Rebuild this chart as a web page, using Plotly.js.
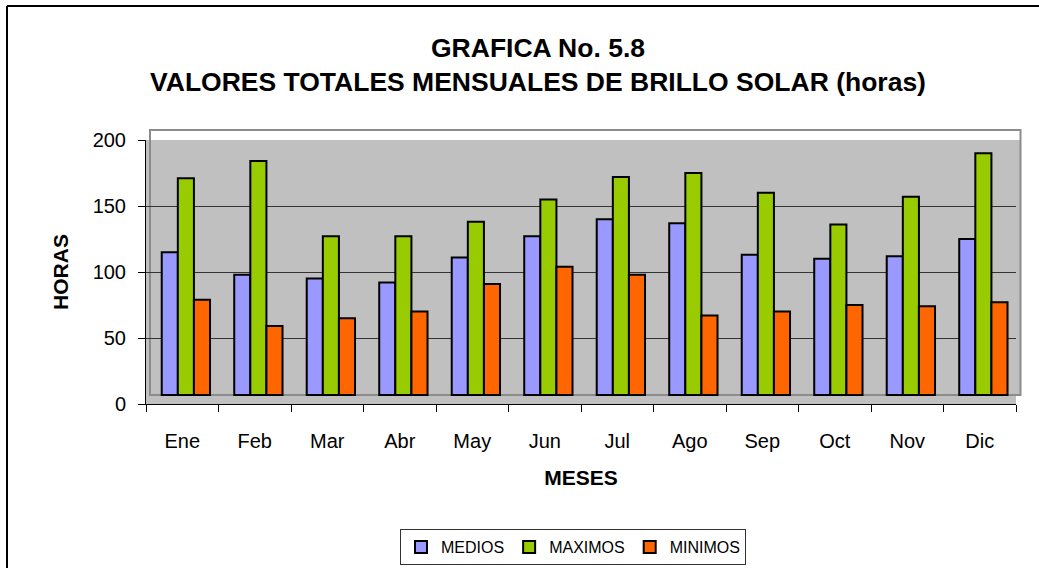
<!DOCTYPE html>
<html>
<head>
<meta charset="utf-8">
<script src="https://cdn.plot.ly/plotly-3.0.1.min.js"></script>
<style>
html,body{margin:0;padding:0;background:#fff;}
#chart{width:1039px;height:568px;}
</style>
</head>
<body>
<div id="chart"></div>
<script>
// ---- data ----
const months = ['Ene','Feb','Mar','Abr','May','Jun','Jul','Ago','Sep','Oct','Nov','Dic'];
const medios  = [115, 98, 95, 92, 111, 127, 140, 137, 113, 110, 112, 125];
const maximos = [171, 184, 127, 127, 138, 155, 172, 175, 160, 136, 157, 190];
const minimos = [79, 59, 65, 70, 91, 104, 98, 67, 70, 75, 74, 77];
const seriesNames = ['MEDIOS','MAXIMOS','MINIMOS'];
const yTicks = [0, 50, 100, 150, 200];

// ---- style ----
const FONT = 'Liberation Sans, Arial, sans-serif';
const colors = ['#9999ff', '#99cc00', '#ff6600'];
const FLOOR = 6.8;           // pseudo-3D floor depth (axis units)
const BAR_W = 0.222;
const offsets = [-0.283, -0.061, 0.161];

const W = 1039, H = 568, L = 146, R = 23, T = 140, B = 164;
const pw = W - L - R, ph = H - T - B;
const px = x => (x - L) / pw;
const py = y => (H - B - y) / ph;

const allSeries = [medios, maximos, minimos];
const traces = allSeries.map((vals, i) => ({
  type: 'bar',
  name: seriesNames[i],
  x: months,
  y: vals.map(v => v - FLOOR),
  base: FLOOR,
  width: BAR_W,
  offset: offsets[i],
  marker: {color: colors[i], line: {color: '#000', width: 2}},
  customdata: vals,
  hovertemplate: '%{x}: %{customdata}<extra>' + seriesNames[i] + '</extra>'
}));

const shapes = [
  // side strip right of plot
  {type:'rect', xref:'paper', yref:'paper', x0:1, x1:px(1020), y0:py(395), y1:1,
   fillcolor:'#c0c0c0', line:{width:0}, layer:'below'},
  // plot-area frame
  {type:'rect', xref:'paper', yref:'paper', x0:px(150), x1:px(1020.5), y0:py(395), y1:py(130),
   line:{color:'#8c8c8c', width:2}, layer:'below'},
  // outer chart border
  {type:'line', xref:'paper', yref:'paper', x0:px(7), x1:px(1045), y0:py(6), y1:py(6),
   line:{color:'#000', width:2}},
  {type:'line', xref:'paper', yref:'paper', x0:px(7), x1:px(7), y0:py(6), y1:py(575),
   line:{color:'#000', width:2}}
];

const layout = {
  width: W, height: H,
  margin: {l: L, r: R, t: T, b: B, autoexpand: false},
  paper_bgcolor: '#fff',
  plot_bgcolor: '#c0c0c0',
  font: {family: FONT, color: '#000'},
  showlegend: true,
  barmode: 'group',
  title: {
    text: '<b>GRAFICA No. 5.8<br>VALORES TOTALES MENSUALES DE BRILLO SOLAR (horas)</b>',
    font: {family: FONT, size: 26.5, color: '#000'},
    x: 538 / W, xref: 'container', xanchor: 'center',
    y: 1 - 57 / H, yref: 'container', yanchor: 'top'
  },
  xaxis: {
    type: 'category',
    range: [-0.5, 11.5],
    showline: true, linecolor: '#000', linewidth: 1,
    ticks: 'outside', ticklen: 7, tickcolor: '#000', tickwidth: 1,
    tickson: 'boundaries',
    showgrid: false, zeroline: false,
    tickfont: {family: FONT, size: 20, color: '#000'},
    ticklabelstandoff: 19,
    title: {text: '<b>MESES</b>', font: {family: FONT, size: 21, color: '#000'}, standoff: 19},
    fixedrange: true
  },
  yaxis: {
    range: [0, 200],
    tickvals: yTicks,
    showline: true, linecolor: '#000', linewidth: 1,
    ticks: 'outside', ticklen: 7, tickcolor: '#000', tickwidth: 1,
    showgrid: true, gridcolor: '#333', gridwidth: 1,
    zeroline: false,
    tickfont: {family: FONT, size: 20, color: '#000'},
    ticklabelstandoff: 8,
    title: {text: '<b>HORAS</b>', font: {family: FONT, size: 21, color: '#000'}, standoff: 18},
    fixedrange: true
  },
  legend: {
    orientation: 'h',
    x: px(573), xanchor: 'center',
    y: py(529), yanchor: 'top',
    bgcolor: '#fff', bordercolor: '#333', borderwidth: 1,
    font: {family: FONT, size: 16, color: '#000'},
    traceorder: 'normal'
  },
  shapes: shapes
};

Plotly.newPlot('chart', traces, layout, {displayModeBar: false, staticPlot: true});
</script>
</body>
</html>
